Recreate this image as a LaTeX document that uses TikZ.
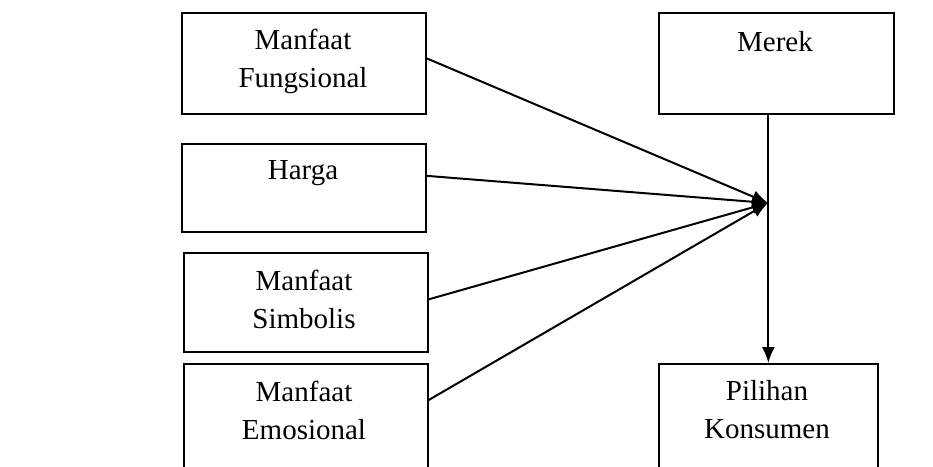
\documentclass[tikz,border=0pt]{standalone}
\usepackage{fontspec}
\setmainfont{Liberation Serif}
\usepackage{tikz}
\usetikzlibrary{positioning,arrows.meta}

\begin{document}
\begin{tikzpicture}[x=1pt, y=-1pt, line width=2pt, >={Latex[length=16pt,width=13pt]},
        kotak/.style={draw, line width=1.7pt, anchor=north west, inner sep=0pt, minimum width=244pt},
        teks/.style={align=center, inner sep=0pt, font={\fontsize{29}{38}\selectfont}}]

        \useasboundingbox (0,0) rectangle (933,466);
        \fill[white] (0,0) rectangle (933,466);
        \clip (0,0) rectangle (933,466);

        % kotak faktor di kiri
        \node (fungsi) [kotak, minimum height=101pt] at (181,12) {};
        \node (harga) [kotak, minimum height=88pt] at (181,143) {};
        \node (simbol) [kotak, minimum height=99pt] at (183,252) {};
        \node (emosi) [kotak, minimum height=115pt] at (183,363) {};

        % merek dan pilihan
        \node (merek) [kotak, minimum width=235pt, minimum height=101pt] at (658,12) {};
        \node (pilihan) [kotak, minimum width=219pt, minimum height=115pt] at (658,363) {};

        \node (fungsi-t) [teks] at (303,61) {Manfaat\\Fungsional};
        \node (harga-t) [teks] at (303,173) {Harga};
        \node (simbol-t) [teks] at (304,299) {Manfaat\\Simbolis};
        \node (emosi-t) [teks] at (304,410) {Manfaat\\Emosional};
        \node (merek-t) [teks] at (775,42) {Merek};
        \node (pilihan-t) [teks] at (767,410) {Pilihan\\Konsumen};

        \coordinate (temu) at (768,203);

        \draw[->] ([yshift=5pt]fungsi.east) -- (temu);
        \draw[->] ([yshift=12pt]harga.east) -- (temu);
        \draw[->] ([yshift=3pt]simbol.east) -- (temu);
        \draw[->] ([yshift=-37pt]emosi.north east) -- (temu);
        \draw[->] (merek.south -| pilihan.north) -- (pilihan.north);

    \end{tikzpicture}
\end{document}
